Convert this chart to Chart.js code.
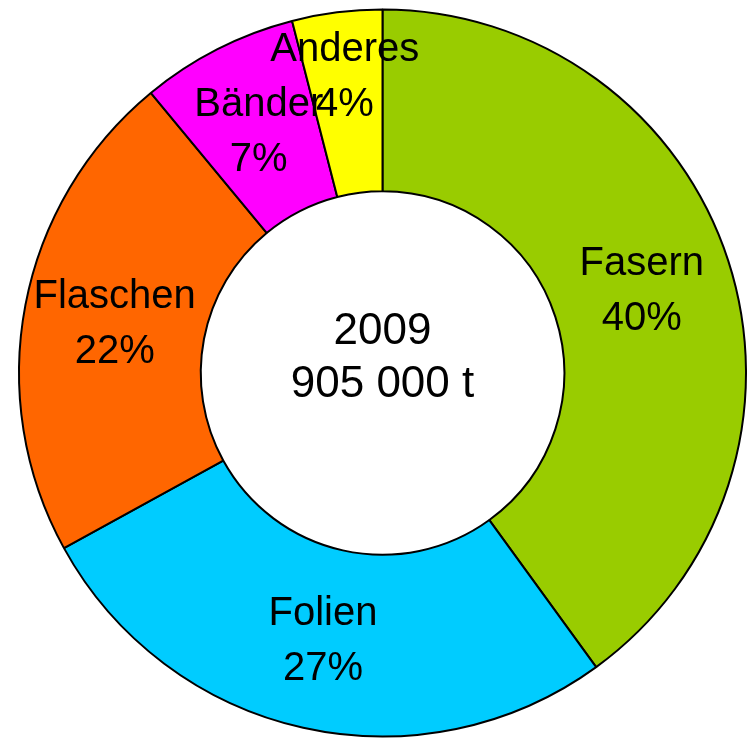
<!DOCTYPE html>
<html>
<head>
<meta charset="utf-8">
<script src="https://cdn.jsdelivr.net/npm/chart.js@4"></script>
<style>
  html, body { margin: 0; padding: 0; background: #fff; }
  #wrap { width: 747px; height: 742px; }
</style>
</head>
<body>
<div id="wrap"><canvas id="grafico" width="747" height="742"></canvas></div>
<script>
// Daten
const kategorien = ['Fasern', 'Folien', 'Flaschen', 'Bänder', 'Anderes'];
const anteile = [40, 27, 22, 7, 4];
const farben = ['#99cc00', '#00ccff', '#ff6600', '#ff00ff', '#ffff00'];
const mitteText = ['2009', '905 000 t'];

const FONT = '"Liberation Sans", Arial, Helvetica, sans-serif';

// Beschriftung in jedem Segment (Name + Prozent)
const segmentLabels = {
    id: 'segmentLabels',
    afterDatasetsDraw(chart) {
        const ctx = chart.ctx;
        const arcs = chart.getDatasetMeta(0).data;
        ctx.save();
        ctx.fillStyle = '#000';
        ctx.font = '40px ' + FONT;
        ctx.textAlign = 'center';
        ctx.textBaseline = 'middle';
        arcs.forEach(function (arc, i) {
            const p = arc.getProps(['x', 'y', 'startAngle', 'endAngle', 'innerRadius', 'outerRadius'], true);
            const mid = (p.startAngle + p.endAngle) / 2;
            let r = (p.innerRadius + p.outerRadius) / 2;
            if (anteile[i] < 5) r += 28; // kleines Segment: Text weiter nach außen
            const x = p.x + Math.cos(mid) * r;
            const y = p.y + Math.sin(mid) * r + 2;
            ctx.fillText(kategorien[i], x, y - 27);
            ctx.fillText(anteile[i] + '%', x, y + 28);
        });
        ctx.restore();
    }
};

// Text in der Mitte
const mitte = {
    id: 'mitte',
    afterDraw(chart) {
        const arc = chart.getDatasetMeta(0).data[0];
        const ctx = chart.ctx;
        ctx.save();
        ctx.fillStyle = '#000';
        ctx.font = '44px ' + FONT;
        ctx.textAlign = 'center';
        ctx.textBaseline = 'middle';
        ctx.fillText(mitteText[0], arc.x, arc.y - 41);
        ctx.fillText(mitteText[1], arc.x, arc.y + 12);
        ctx.restore();
    }
};

new Chart(document.getElementById('grafico').getContext('2d'), {
    type: 'doughnut',
    data: {
        labels: kategorien,
        datasets: [{
            data: anteile,
            backgroundColor: farben,
            borderColor: '#000',
            borderWidth: 2
        }]
    },
    options: {
        responsive: false,
        animation: false,
        cutout: '50%',
        layout: { padding: { left: 18, right: 0, top: 7, bottom: 3 } },
        plugins: { legend: { display: false }, tooltip: { enabled: false } }
    },
    plugins: [segmentLabels, mitte]
});
</script>
</body>
</html>
